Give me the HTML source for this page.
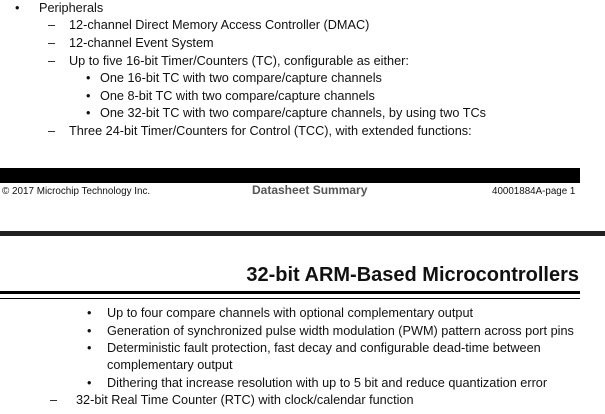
<!DOCTYPE html>
<html><head><meta charset="utf-8"><style>
*{margin:0;padding:0}
body{width:605px;height:414px;background:#fff;position:relative;overflow:hidden;font-family:"Liberation Sans",Arial,sans-serif;color:#111}
.t{position:absolute;font-size:12.7px;line-height:14px;white-space:nowrap}
.a{position:absolute}
</style></head><body>
<div class="t" style="left:15px;top:1px">•</div><div class="t" style="left:39px;top:1px">Peripherals</div>
<div class="t" style="left:48px;top:18px">–</div><div class="t" style="left:69px;top:18px">12-channel Direct Memory Access Controller (DMAC)</div>
<div class="t" style="left:48px;top:36px">–</div><div class="t" style="left:69px;top:36px">12-channel Event System</div>
<div class="t" style="left:48px;top:54px">–</div><div class="t" style="left:69px;top:54px">Up to five 16-bit Timer/Counters (TC), configurable as either:</div>
<div class="t" style="left:86px;top:71px">•</div><div class="t" style="left:100px;top:71px">One 16-bit TC with two compare/capture channels</div>
<div class="t" style="left:86px;top:89px">•</div><div class="t" style="left:100px;top:89px">One 8-bit TC with two compare/capture channels</div>
<div class="t" style="left:86px;top:106px">•</div><div class="t" style="left:100px;top:106px">One 32-bit TC with two compare/capture channels, by using two TCs</div>
<div class="t" style="left:48px;top:124px">–</div><div class="t" style="left:69px;top:124px">Three 24-bit Timer/Counters for Control (TCC), with extended functions:</div>

<div class="a" style="left:0;top:168px;width:580px;height:15px;background:#000"></div>
<div class="t" style="left:2px;top:185px;font-size:9.9px">© 2017 Microchip Technology Inc.</div>
<div class="t" style="left:252px;top:183px;font-size:12px;font-weight:bold;color:#555">Datasheet Summary</div>
<div class="t" style="left:492px;top:185px;font-size:9.8px">40001884A-page 1</div>

<div class="a" style="left:0;top:231px;width:605px;height:5px;background:#222"></div>
<div class="t" style="right:26px;top:264px;font-size:20px;line-height:22px;font-weight:bold">32-bit ARM-Based Microcontrollers</div>
<div class="a" style="left:0;top:291px;width:580px;height:3px;background:#000"></div>
<div class="a" style="left:0;top:298px;width:580px;height:1px;background:#000"></div>

<div class="t" style="left:87px;top:306px">•</div><div class="t" style="left:107px;top:306px">Up to four compare channels with optional complementary output</div>
<div class="t" style="left:87px;top:324px">•</div><div class="t" style="left:107px;top:324px">Generation of synchronized pulse width modulation (PWM) pattern across port pins</div>
<div class="t" style="left:87px;top:341px">•</div><div class="t" style="left:107px;top:341px">Deterministic fault protection, fast decay and configurable dead-time between</div>
<div class="t" style="left:107px;top:358px">complementary output</div>
<div class="t" style="left:87px;top:376px">•</div><div class="t" style="left:107px;top:376px">Dithering that increase resolution with up to 5 bit and reduce quantization error</div>
<div class="t" style="left:50px;top:393px">–</div><div class="t" style="left:76px;top:393px">32-bit Real Time Counter (RTC) with clock/calendar function</div>
</body></html>
